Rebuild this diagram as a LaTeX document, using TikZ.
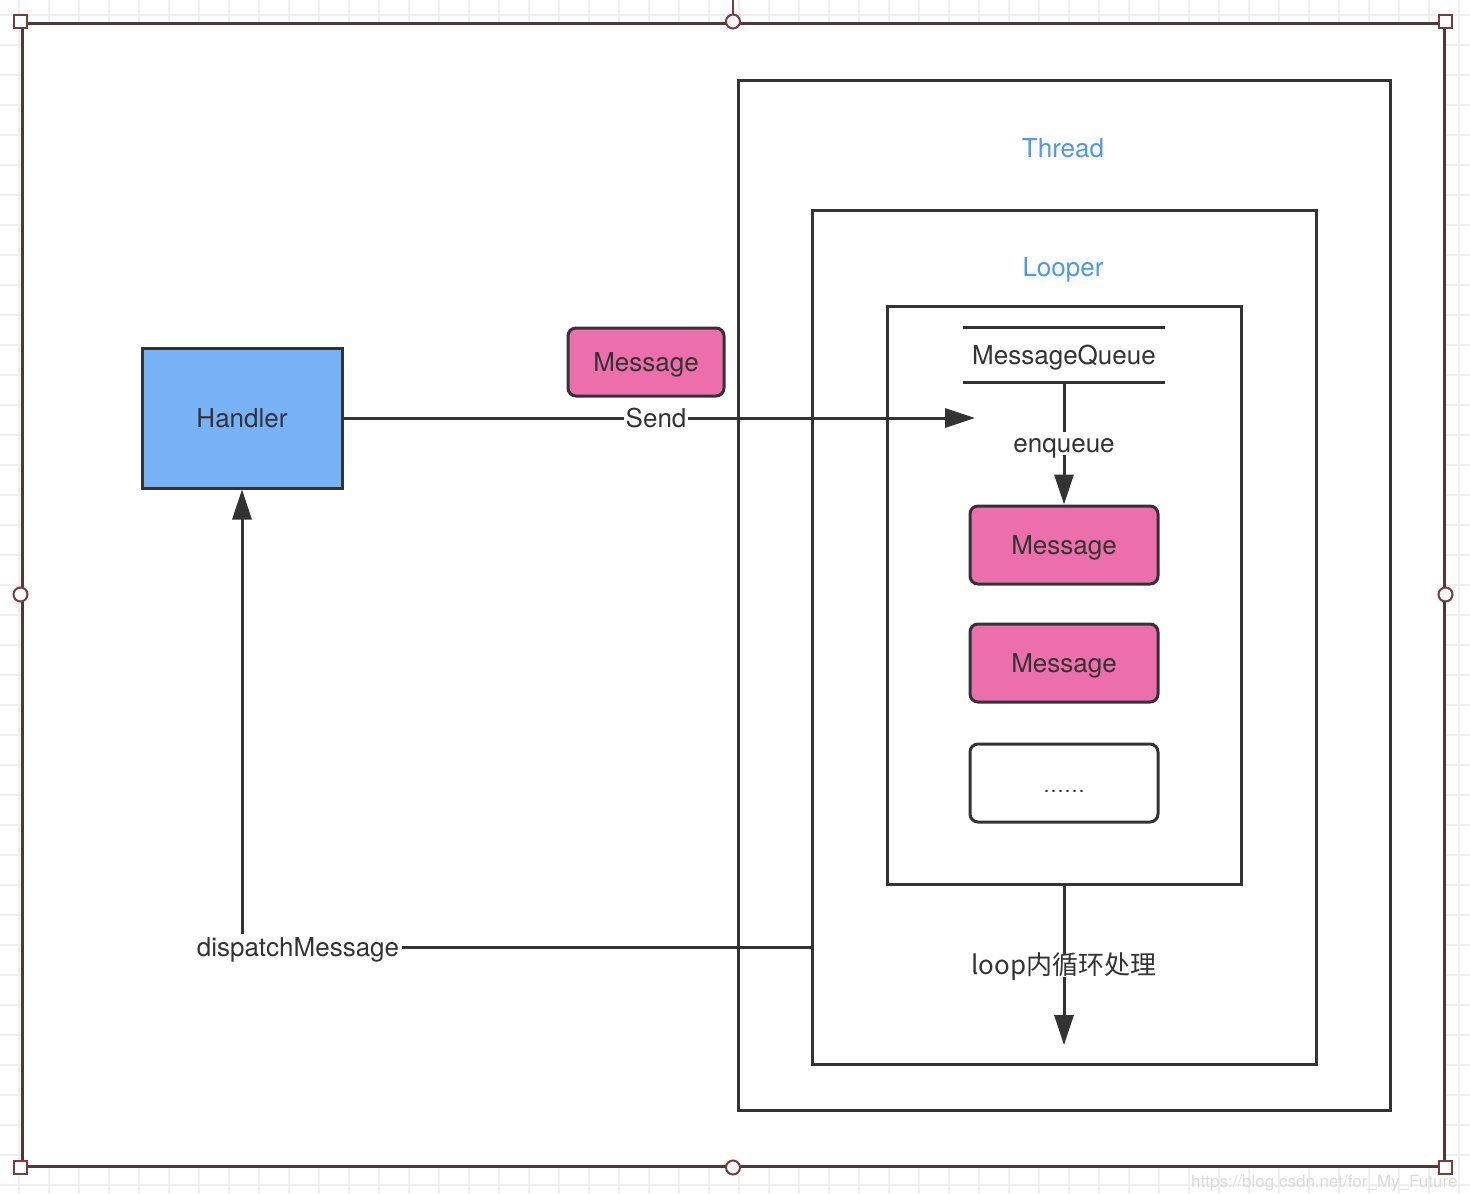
\documentclass[tikz,border=0pt]{standalone}
\usepackage{fontspec}
\setmainfont{TeX Gyre Heros}
\newfontfamily\cjk{Noto Sans CJK SC}
\usetikzlibrary{arrows.meta}
\definecolor{ink}{HTML}{333333}
\definecolor{pinkfill}{HTML}{EC6FAC}
\definecolor{bluefill}{HTML}{77B2F7}
\definecolor{bluetext}{HTML}{4A97F4}
\definecolor{framec}{HTML}{553636}
\definecolor{handlec}{HTML}{7D3A3A}
\definecolor{gridc}{HTML}{EFEFEF}
\definecolor{wm}{HTML}{DADADA}
\tikzset{
  every node/.style={font=\fontsize{26}{30}\selectfont, text=ink, text height=19pt, text depth=0pt},
  box/.style={draw=ink, line width=3pt, rectangle, inner sep=0pt},
  msgbox/.style={draw=ink, line width=3pt, rounded corners=8pt, fill=pinkfill, inner sep=0pt, minimum width=188pt, minimum height=78pt},
  conn/.style={draw=ink, line width=3pt},
  arr/.style={conn, -{Triangle[length=30pt,width=19pt]}},
  lbl/.style={fill=white, inner sep=2pt},
  hsq/.style={draw=handlec, fill=white, line width=2pt, minimum size=13pt, inner sep=0pt, rectangle, text height=0pt, text depth=0pt},
  hci/.style={draw=handlec, fill=white, line width=2pt, minimum size=14pt, inner sep=0pt, circle, text height=0pt, text depth=0pt},
}
\begin{document}
\begin{tikzpicture}[x=1pt,y=-1pt]
\useasboundingbox (0,0) rectangle (1470,1194);
% background grid
\foreach \x in {19,49,...,1470} \draw[gridc, line width=1.5pt] (\x,0) -- (\x,1194);
\foreach \y in {15,45,...,1194} \draw[gridc, line width=1.5pt] (0,\y) -- (1470,\y);
% frame
\node[draw=framec, fill=white, line width=3pt, inner sep=0pt, minimum width=1422pt, minimum height=1143pt] (frame) at (733,594.5) {};
\draw[handlec, line width=1.5pt] (733,0) -- (frame.north);
\node[hsq] at (frame.north west) {};
\node[hsq] at (frame.north east) {};
\node[hsq] at (frame.south west) {};
\node[hsq] at (frame.south east) {};
\node[hci] at (frame.north) {};
\node[hci] at (frame.south) {};
\node[hci] at (frame.west) {};
\node[hci] at (frame.east) {};
% containers
\node[box, minimum width=652pt, minimum height=1030pt] (thread) at (1064,595) {};
\node[text=bluetext] (threadlbl) at (1063,148) {Thread};
\node[box, minimum width=504pt, minimum height=854pt] (looper) at (1064,637) {};
\node[text=bluetext] (looperlbl) at (1063,267) {Looper};
\node[box, minimum width=354pt, minimum height=578pt] (inner) at (1064,595) {};
% message queue
\node[minimum width=201pt, minimum height=54pt, inner sep=0pt] (mq) at (1064,355) {MessageQueue};
\draw[conn] (mq.north west) -- (mq.north east);
\draw[conn] (mq.south west) -- (mq.south east);
\node[msgbox] (m1) at (1064,545) {Message};
\node[msgbox] (m2) at (1064,663) {Message};
\node[msgbox, fill=white] (m3) at (1064,783) {\fontsize{21}{24}\selectfont……};
\draw[arr] (mq.south) -- node[lbl] {enqueue} (m1.north);
\coordinate (loopend) at (1064,1045);
\draw[arr] (inner.south) -- node[lbl] {\cjk loop内循环处理} (loopend);
% handler side
\node[box, fill=bluefill, minimum width=200pt, minimum height=140pt] (handler) at (242,418) {Handler};
\node[msgbox, minimum width=156pt, minimum height=68pt] (mtop) at (646,362) {Message};
\coordinate (sendtip) at (975,418);
\draw[arr] (handler.east) -- node[lbl, pos=0.495] {Send} (sendtip);
\node[inner sep=3pt] (disp) at (298,947) {dispatchMessage};
\coordinate (dispR) at (looper.west |- disp);
\draw[conn] (dispR) -- (disp.east);
\draw[arr] (disp.north -| handler.south) -- (handler.south);
% watermark
\node[text=wm, font=\fontsize{17}{20}\selectfont, anchor=east] (wmk) at (1461,1178) {https://blog.csdn.net/for\_My\_Future};
\end{tikzpicture}
\end{document}
